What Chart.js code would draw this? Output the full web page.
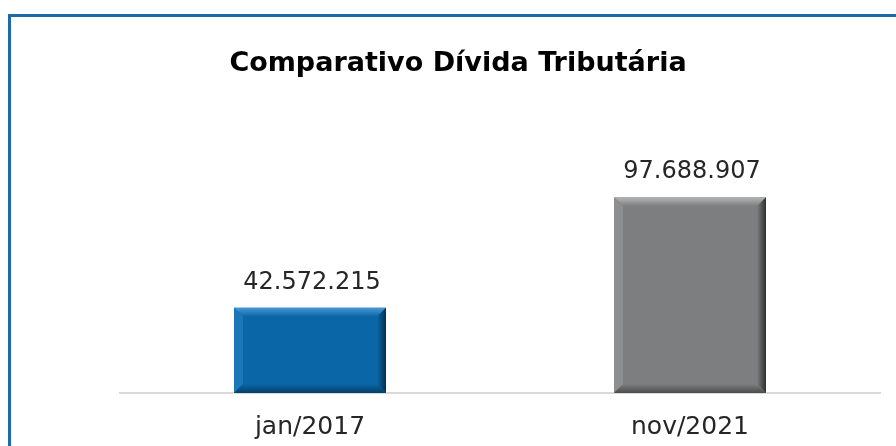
<!DOCTYPE html>
<html lang="pt">
<head>
  <meta charset="UTF-8" />
  <title>Comparativo Dívida Tributária</title>
  <script src="https://cdn.jsdelivr.net/npm/chart.js"></script>
  <style>
    html, body {
      margin: 0;
      padding: 0;
      background: #ffffff;
      overflow: hidden;
    }
    .wrap {
      position: relative;
      width: 896px;
      height: 446px;
    }
    /* cadre bleu (haut + gauche, coupé à droite et en bas) */
    .frame {
      position: absolute;
      left: 8px;
      top: 14px;
      width: 1000px;
      height: 1000px;
      border: 3px solid #1d6aa8;
      box-sizing: border-box;
      pointer-events: none;
    }
    canvas {
      position: absolute;
      left: 0;
      top: 0;
    }
  </style>
</head>
<body>
<div class="wrap">
  <canvas id="chart" width="896" height="446"></canvas>
  <div class="frame"></div>
</div>

<script>
  const chartTitle = 'Comparativo Dívida Tributária';
  const categories = ['jan/2017', 'nov/2021'];
  const values = [42572215, 97688907];
  const barColors = ['#0a66a6', '#7d7e80'];

  // bevel colors per bar: [top, left, right, bottom]
  const bevelColors = [
    ['#4a9ad6', '#1a78ba', '#042f52', '#053f6a'],
    ['#b5b6b8', '#8d8e90', '#2e2e2e', '#4a4b4c']
  ];

  const fmt = v => v.toLocaleString('de-DE');

  // Effet biseauté + étiquettes de valeur
  const bevelPlugin = {
    id: 'bevel',
    afterDatasetsDraw(chart) {
      const ctx = chart.ctx;
      const meta = chart.getDatasetMeta(0);
      meta.data.forEach((bar, i) => {
        const l = bar.x - bar.width / 2;
        const r = bar.x + bar.width / 2;
        const t = bar.y;
        const b = bar.base;
        const e = 9;
        const c = bevelColors[i];
        const poly = (pts, fill) => {
          ctx.beginPath();
          ctx.moveTo(pts[0][0], pts[0][1]);
          for (let k = 1; k < pts.length; k++) ctx.lineTo(pts[k][0], pts[k][1]);
          ctx.closePath();
          ctx.fillStyle = fill;
          ctx.fill();
        };
        ctx.save();
        let g = ctx.createLinearGradient(0, t, 0, t + e);
        g.addColorStop(0, c[0]);
        g.addColorStop(1, barColors[i]);
        poly([[l, t], [r, t], [r - e, t + e], [l + e, t + e]], g);
        poly([[l, t], [l + e, t + e], [l + e, b - e], [l, b]], c[1]);
        g = ctx.createLinearGradient(r - e, 0, r, 0);
        g.addColorStop(0, barColors[i]);
        g.addColorStop(1, c[2]);
        poly([[r, t], [r, b], [r - e, b - e], [r - e, t + e]], g);
        g = ctx.createLinearGradient(0, b - e, 0, b);
        g.addColorStop(0, barColors[i]);
        g.addColorStop(1, c[3]);
        poly([[l, b], [l + e, b - e], [r - e, b - e], [r, b]], g);

        // valeur au-dessus de la barre
        ctx.font = '24px "DejaVu Sans", sans-serif';
        ctx.fillStyle = '#262626';
        ctx.textAlign = 'center';
        ctx.textBaseline = 'middle';
        ctx.fillText(fmt(values[i]), bar.x + 2, t - 25);
        ctx.restore();
      });
    }
  };

  new Chart(document.getElementById('chart'), {
    type: 'bar',
    data: {
      labels: categories,
      datasets: [{
        data: values,
        backgroundColor: barColors,
        borderWidth: 0,
        categoryPercentage: 0.8,
        barPercentage: 0.5
      }]
    },
    options: {
      responsive: false,
      animation: false,
      layout: {
        padding: { left: 36, right: 16, top: 0, bottom: 0 }
      },
      scales: {
        x: {
          grid: { display: false, drawTicks: false },
          border: { display: true, color: '#d9d9d9', width: 2 },
          ticks: {
            color: '#262626',
            padding: 19,
            font: { family: '"DejaVu Sans", sans-serif', size: 25 }
          },
          afterFit(scale) { scale.height = 53; }
        },
        y: {
          min: 0,
          max: 120000000,
          grid: { display: false },
          border: { display: false },
          ticks: { display: false },
          afterFit(scale) { scale.width = 84; }
        }
      },
      plugins: {
        legend: { display: false },
        tooltip: { enabled: false },
        title: {
          display: true,
          text: chartTitle,
          color: '#000000',
          font: { family: '"DejaVu Sans", sans-serif', size: 27, weight: 'bold' },
          padding: { top: 48, bottom: 72 }
        }
      }
    },
    plugins: [bevelPlugin]
  });
</script>
</body>
</html>
